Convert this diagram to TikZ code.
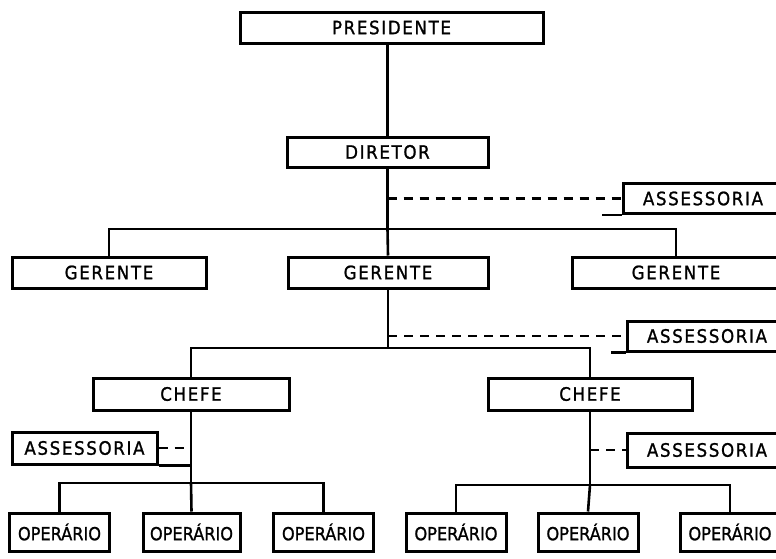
\documentclass[tikz,border=0pt]{standalone}
\usepackage{fontspec}
\newfontfamily\cargofont[LetterSpace=9,FakeBold=1.2]{DejaVu Sans Condensed}
\newfontfamily\operfont[FakeBold=1.2]{DejaVu Sans Condensed}

\begin{document}
\begin{tikzpicture}
[x=1pt, y=-1pt,
cargo/.style = {shape=rectangle, draw, line width=3pt, inner sep=0pt,
	align=center, minimum height=31pt,
	font=\cargofont\fontsize{18.5}{20}\selectfont},
assessoria/.style = {cargo, minimum width=160pt, minimum height=30pt},
operario/.style = {cargo, minimum width=100pt, minimum height=38pt,
	font=\operfont\fontsize{18}{20}\selectfont},
linha/.style = {line width=2.6pt},
staff/.style = {line width=2.6pt, dash pattern=on 9pt off 7pt},
]
\useasboundingbox (0,0) rectangle (776,558);
\clip (0,0) rectangle (776,558);

\node[cargo, minimum width=303pt] (presidente) at (391.5,27.5) {PRESIDENTE};
\node[cargo, minimum width=201pt, minimum height=30pt] (diretor) at (387.5,152) {DIRETOR};
\node[assessoria] (assdiretor) at (703,198.5) {ASSESSORIA};

\node[cargo, minimum width=194pt] (gerente1) at (109,272.5) {GERENTE};
\node[cargo, minimum width=200pt] (gerente2) at (388,272.5) {GERENTE};
\node[cargo, minimum width=208pt] (gerente3) at (676,272.5) {GERENTE};
\node[assessoria] (assgerente) at (707,336) {ASSESSORIA};

\node[cargo, minimum width=196pt, minimum height=32pt] (chefe1) at (191,394) {CHEFE};
\node[cargo, minimum width=204pt, minimum height=32pt] (chefe2) at (590,394) {CHEFE};
\node[assessoria, minimum width=145pt, minimum height=32pt] (asschefe1) at (84.5,448) {ASSESSORIA};
\node[assessoria, minimum height=34pt] (asschefe2) at (707,450) {ASSESSORIA};

\node[operario] (oper1) at (59.5,532) {OPERÁRIO};
\node[operario, minimum width=97pt] (oper2) at (191.5,532) {OPERÁRIO};
\node[operario] (oper3) at (323.5,532) {OPERÁRIO};
\node[operario] (oper4) at (456,532) {OPERÁRIO};
\node[operario] (oper5) at (588,532) {OPERÁRIO};
\node[operario] (oper6) at (730,532) {OPERÁRIO};

\coordinate (barra1) at (387.5,229);
\coordinate (barra2) at (388,348);
\coordinate (barra3) at (191,483);
\coordinate (barra4) at (590,485);

\draw[linha] (presidente.south -| diretor.north) -- (diretor.north);
\draw[linha] (diretor.south) -- (barra1);
\draw[linha] (gerente1.north) |- (barra1) -| (gerente3.north);
\draw[linha] (barra1) -- (gerente2.north);
\draw[staff] (barra1 |- assdiretor) -- (assdiretor.west);
\draw[linha] (assdiretor.south west) -- ++(-20,0);

\draw[linha] (gerente2.south) -- (barra2);
\draw[linha] (chefe1.north) |- (barra2) -| (chefe2.north);
\draw[staff] (barra2 |- assgerente) -- (assgerente.west);
\draw[linha] (assgerente.south west) -- ++(-15,0);

\draw[linha] (chefe1.south) -- (barra3);
\draw[linha] (oper1.north) |- (barra3) -| (oper3.north);
\draw[linha] (barra3) -- (oper2.north);
\draw[staff] (asschefe1.east) -- (barra3 |- asschefe1);
\draw[linha] (asschefe1.south east) -- (barra3 |- asschefe1.south);

\draw[linha] (chefe2.south) -- (barra4);
\draw[linha] (oper4.north) |- (barra4) -| (oper6.north);
\draw[linha] (barra4) -- (oper5.north);
\draw[staff] (barra4 |- asschefe2) -- (asschefe2.west);

\end{tikzpicture}
\end{document}
